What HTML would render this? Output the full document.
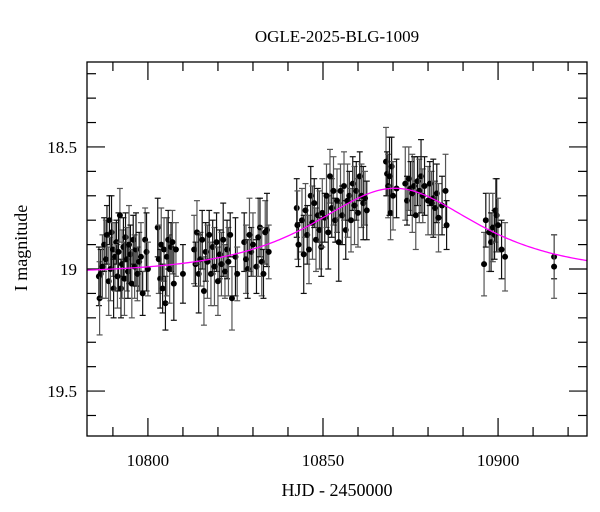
<!DOCTYPE html>
<html><head><meta charset="utf-8"><style>
body{margin:0;background:#fff}
svg{display:block;font-family:"Liberation Serif",serif}
</style></head><body>
<svg id="chart" width="600" height="512" xmlns="http://www.w3.org/2000/svg">
<text x="337" y="42" text-anchor="middle" font-size="17">OGLE-2025-BLG-1009</text>
<text x="337" y="496" text-anchor="middle" font-size="18">HJD - 2450000</text>
<text transform="translate(27,248) rotate(-90)" text-anchor="middle" font-size="18">I magnitude</text>
<g id="ticks"></g>
<g id="data"></g>
<path id="model" fill="none" stroke="#ff00ff" stroke-width="1.3"/>
<rect x="87" y="62" width="500" height="374" fill="none" stroke="#000" stroke-width="1.3"/>
</svg>
<script>
const times=[10786.0,10786.2,10786.5,10787.0,10787.5,10788.0,10788.3,10788.8,10789.0,10789.3,10789.6,10790.0,10790.2,10790.6,10791.0,10791.3,10791.6,10792.0,10792.3,10792.6,10793.0,10793.3,10793.6,10794.0,10794.3,10794.6,10795.0,10795.4,10795.8,10796.2,10796.6,10797.0,10797.5,10798.0,10798.5,10799.2,10799.6,10800.0,
10802.8,10803.1,10803.5,10803.8,10804.2,10804.6,10805.0,10805.4,10805.8,10806.2,10806.6,10807.0,10807.4,10808.0,10810.0,
10813.2,10813.6,10814.0,10814.5,10815.0,10815.5,10816.0,10816.5,10817.0,10817.5,10818.0,10818.5,10819.0,10819.6,10820.0,10820.5,10821.0,10821.5,10822.0,10822.6,10823.0,10823.5,10824.0,10825.0,10825.5,
10827.5,10828.0,10828.5,10829.0,10829.5,10830.0,10831.0,10831.5,10832.0,10832.5,10833.0,10833.5,10834.0,10834.5,
10842.5,10842.7,10843.0,10844.0,10844.5,10845.0,10845.5,10846.0,10846.5,10847.0,10847.5,10848.0,10848.5,10849.0,10849.5,10849.8,
10850.5,10851.0,10851.5,10852.0,10852.5,10853.0,10853.5,10854.0,10854.5,10855.0,10855.5,10856.0,10856.5,10857.0,10857.5,10858.0,10858.5,10859.0,10859.5,10860.0,10860.5,10861.0,10861.5,10862.0,10862.5,
10868.0,10868.3,10868.6,10869.0,10869.3,10869.6,10870.0,10871.0,
10873.5,10874.0,10874.5,10875.0,10875.5,10876.0,10876.5,10877.0,10877.5,10878.0,10878.5,10879.0,10880.0,10880.5,10881.0,10881.5,10882.0,10882.5,10883.0,10884.0,10885.0,10885.3,
10896.0,10896.5,10897.5,10898.0,10898.5,10899.0,10899.3,10899.6,10900.0,10901.0,10902.0,
10916.0,10916.0];
const mags=[19.03,19.12,19.02,18.99,18.90,18.96,18.86,19.05,18.80,19.00,18.85,18.92,19.08,18.95,18.89,19.03,18.93,18.78,19.08,18.98,18.91,19.04,18.87,18.96,19.01,18.90,18.94,19.06,18.88,18.99,18.92,19.02,18.97,18.95,19.10,18.88,18.93,19.00,
18.83,18.96,19.04,18.90,19.08,18.92,19.14,18.95,18.88,19.00,18.91,18.89,19.06,18.92,19.02,
18.92,18.98,18.85,19.02,18.96,18.88,19.09,18.93,18.97,18.86,19.02,18.91,18.99,18.89,19.05,18.94,18.98,18.88,19.01,18.92,18.97,18.86,19.12,18.95,19.02,
18.89,18.96,19.00,18.86,18.93,18.90,18.99,18.87,18.83,18.97,19.02,18.85,18.84,18.93,
18.75,18.82,18.90,18.80,18.94,18.76,18.86,18.92,18.70,18.81,18.73,18.88,18.78,18.84,18.91,18.77,
18.79,18.70,18.85,18.62,18.75,18.68,18.80,18.72,18.89,18.68,18.78,18.66,18.84,18.72,18.70,18.80,18.65,18.74,18.68,18.77,18.62,18.70,18.73,18.71,18.76,
18.56,18.61,18.66,18.62,18.77,18.58,18.70,18.67,
18.65,18.72,18.63,18.67,18.69,18.66,18.78,18.64,18.68,18.62,18.70,18.66,18.72,18.65,18.73,18.71,18.75,18.69,18.79,18.74,18.68,18.82,
18.98,18.80,18.85,18.89,18.83,18.86,18.76,18.78,18.82,18.92,18.95,
18.95,18.99];
const errs=[0.12,0.15,0.10,0.13,0.11,0.16,0.12,0.14,0.10,0.13,0.15,0.11,0.12,0.14,0.09,0.13,0.16,0.11,0.12,0.14];
const xTicks=[10800,10850,10900];
const yTicks=[18.5,19,19.5];
const modelT0=[10870.5],modelU0=[0.9],modelTE=[30],modelBase=[19.02],modelFs=[0.9];

const X0=87,X1=587,Y0=62,Y1=436,T0=10782.6,T1=10925.4,M0=18.152,M1=19.684;
const sx=t=>X0+(t-T0)/(T1-T0)*(X1-X0);
const sy=m=>Y0+(m-M0)/(M1-M0)*(Y1-Y0);
const NS="http://www.w3.org/2000/svg";
function mk(tag,attrs,parent){const e=document.createElementNS(NS,tag);for(const k in attrs)e.setAttribute(k,attrs[k]);parent.appendChild(e);return e;}
const tg=document.getElementById('ticks');
for(let t=10790;t<=10920;t+=10){
  const maj=xTicks.includes(t),L=maj?18:9,x=sx(t);
  const a=mk('line',{x1:x,x2:x,y1:Y1,y2:Y1-L,stroke:'#000','stroke-width':1.2},tg);
  
  const b=mk('line',{x1:x,x2:x,y1:Y0,y2:Y0+L,stroke:'#000','stroke-width':1.2},tg);
  
}
xTicks.forEach(t=>{const e=mk('text',{x:sx(t),y:Y1+30,'text-anchor':'middle','font-size':17},tg);e.textContent=t;
  });
for(let i=2;i<=16;i++){
  const m=18.0+i*0.1,maj=yTicks.some(v=>Math.abs(v-m)<1e-6),L=maj?18:9,y=sy(m);
  const a=mk('line',{x1:X0,x2:X0+L,y1:y,y2:y,stroke:'#000','stroke-width':1.2},tg);
  
  const b=mk('line',{x1:X1,x2:X1-L,y1:y,y2:y,stroke:'#000','stroke-width':1.2},tg);
  
}
yTicks.forEach(m=>{const e=mk('text',{x:X0-10,y:sy(m)+6,'text-anchor':'end','font-size':17},tg);e.textContent=String(m);
  });
const dg=document.getElementById('data');
times.forEach((t,i)=>{
  const x=sx(t),y=sy(mags[i]),e=errs[i%errs.length],ya=sy(mags[i]-e),yb=sy(mags[i]+e);
  const g=mk('g',{},dg);
  
  
  const c=i%2?'#555':'#111';
  mk('line',{x1:x,x2:x,y1:ya,y2:yb,stroke:c,'stroke-width':1.2},g);
  mk('line',{x1:x-3,x2:x+3,y1:ya,y2:ya,stroke:c,'stroke-width':1.2},g);
  mk('line',{x1:x-3,x2:x+3,y1:yb,y2:yb,stroke:c,'stroke-width':1.2},g);
  mk('circle',{cx:x,cy:y,r:3,fill:'#000'},g);
});
let d='';
for(let px=X0;px<=X1;px+=2){
  const t=T0+(px-X0)/(X1-X0)*(T1-T0);
  const tau=(t-modelT0[0])/modelTE[0],u=Math.sqrt(modelU0[0]**2+tau*tau);
  const A=(u*u+2)/(u*Math.sqrt(u*u+4));
  const m=modelBase[0]-2.5*Math.log10(modelFs[0]*A+1-modelFs[0]);
  d+=(d?'L':'M')+px+','+sy(m).toFixed(2);
}
document.getElementById('model').setAttribute('d',d);
</script>
</body></html>
